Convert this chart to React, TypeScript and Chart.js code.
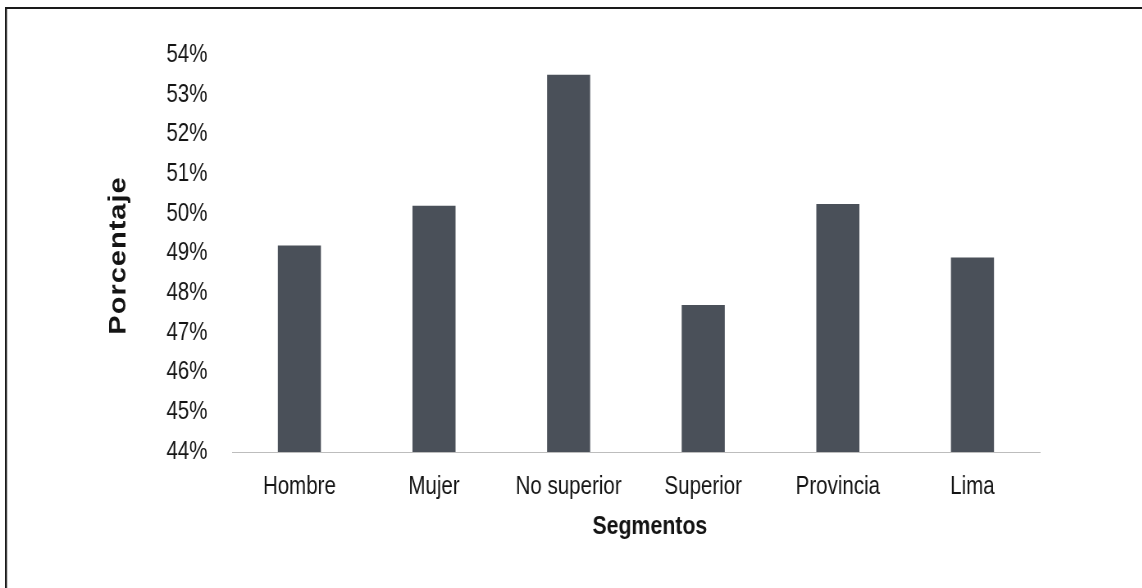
import React, { useEffect, useRef } from "react";
import { Chart, registerables } from "chart.js";

Chart.register(...registerables);

const categories = ["Hombre", "Mujer", "No superior", "Superior", "Provincia", "Lima"];
const values = [49.2, 50.2, 53.5, 47.7, 50.25, 48.9];
const yMin = 44;
const yMax = 54;
const yTitle = "Porcentaje";
const xTitle = "Segmentos";

// The reference is a horizontally compressed scan (Arial Narrow look);
// draw at a wider internal width and compress with CSS.
const SX = 0.82;
const OUT_W = 1142;
const OUT_H = 588;
const IN_W = Math.round(OUT_W / SX);

const FONT = "'Liberation Sans', Arial, sans-serif";
const TEXT = "#141414";

const titlesPlugin = {
  id: "customTitles",
  afterDraw(chart: any) {
    const ctx = chart.ctx;
    const area = chart.chartArea;
    ctx.save();
    ctx.fillStyle = "#1a1a1a";
    // frame lines of the scanned figure
    ctx.fillRect(6, 7, chart.width - 6, 2);
    ctx.fillRect(6, 7, 2.5, chart.height - 7);
    ctx.fillStyle = TEXT;
    // y title
    ctx.save();
    ctx.translate(145, (area.top + area.bottom) / 2 + 2);
    ctx.rotate(-Math.PI / 2);
    ctx.font = `bold 29px ${FONT}`;
    try { (ctx as any).letterSpacing = "1px"; } catch (e) {}
    ctx.textAlign = "center";
    ctx.textBaseline = "middle";
    ctx.fillText(yTitle, 0, 0);
    try { (ctx as any).letterSpacing = "0px"; } catch (e) {}
    ctx.restore();
    // x title
    ctx.font = `bold 26px ${FONT}`;
    ctx.textAlign = "center";
    ctx.textBaseline = "middle";
    ctx.fillText(xTitle, (area.left + area.right) / 2 + 17, 527);
    ctx.restore();
  },
};

export default function App() {
  const ref = useRef<HTMLCanvasElement>(null);
  useEffect(() => {
    document.body.style.margin = "0";
    const chart = new Chart(ref.current!, {
      type: "bar",
      data: {
        labels: categories,
        datasets: [
          {
            data: values,
            backgroundColor: "#4a5059",
            borderWidth: 0,
            barPercentage: 0.32,
            categoryPercentage: 1,
          },
        ],
      },
      options: {
        animation: false,
        responsive: false,
        maintainAspectRatio: false,
        devicePixelRatio: 1,
        layout: { padding: { left: 0, right: IN_W - 1268, top: 55, bottom: 36 } },
        plugins: { legend: { display: false }, tooltip: { enabled: false } },
        scales: {
          x: {
            grid: { display: false },
            border: { display: true, color: "#bdbdbd", width: 1, dash: [2, 3] },
            ticks: {
              color: TEXT,
              font: { family: FONT, size: 25 },
              padding: 12,
              maxRotation: 0,
            },
            afterFit(scale: any) {
              scale.height = 100;
            },
          },
          y: {
            min: yMin,
            max: yMax,
            grid: { display: false },
            border: { display: false },
            ticks: {
              stepSize: 1,
              color: TEXT,
              font: { family: FONT, size: 25 },
              padding: 22,
              callback: (v: any) => `${v}%`,
            },
            afterFit(scale: any) {
              scale.width = 283;
            },
          },
        },
      },
      plugins: [titlesPlugin],
    });
    return () => chart.destroy();
  }, []);
  return (
    <div style={{ position: "relative", width: OUT_W, height: OUT_H, overflow: "hidden", background: "#fff" }}>
      <div style={{ width: IN_W, height: OUT_H, transform: `scaleX(${SX})`, transformOrigin: "0 0" }}>
        <canvas ref={ref} width={IN_W} height={OUT_H} style={{ display: "block" }} />
      </div>
    </div>
  );
}
